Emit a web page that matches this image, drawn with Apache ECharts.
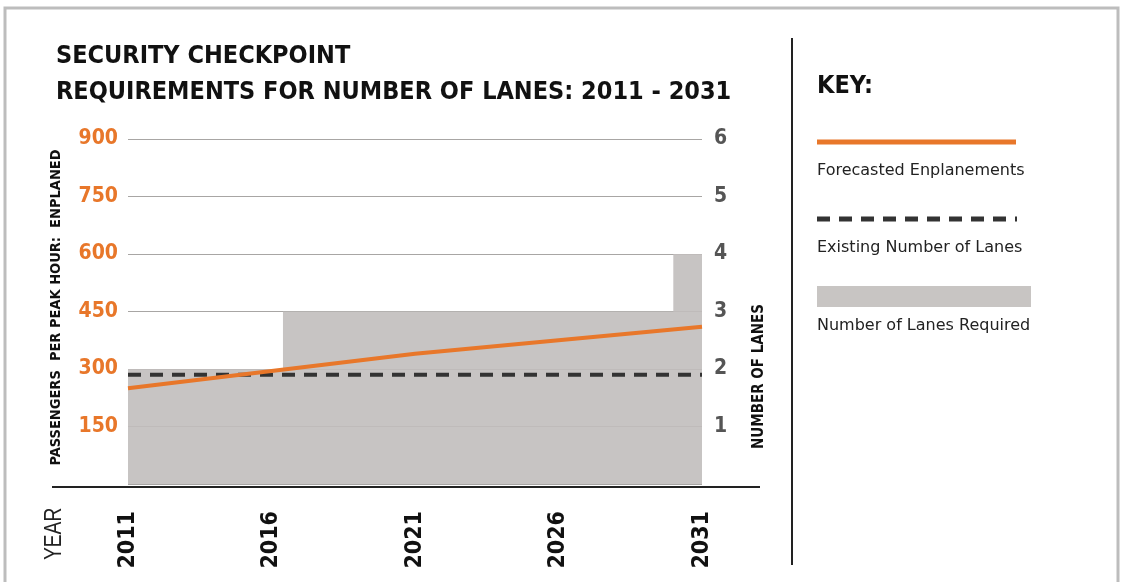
<!DOCTYPE html>
<html><head><meta charset="utf-8">
<script src="https://cdn.jsdelivr.net/npm/echarts@6/dist/echarts.min.js"></script>
<style>html,body{margin:0;padding:0;background:#fff}#c{width:1123px;height:582px}</style>
</head><body><div id="c"></div>
<script>
// ---- data ----
const years = [2011, 2016, 2021, 2026, 2031];
const enplanements = [250, 295, 340, 375, 410];           // passengers per peak hour
const existingLanesYears = [2011, 2031];
const existingLanes = [1.9, 1.9];
const requiredYears = [2011, 2016.4, 2030, 2031];
const requiredLanes = [2, 3, 4, 4];
const leftTicks = [150, 300, 450, 600, 750, 900];
const rightTicks = [1, 2, 3, 4, 5, 6];

const ORANGE = '#e8772a';
const GREY = '#c8c5c3';
const FONT = "'DejaVu Sans Condensed','Liberation Sans',sans-serif";
const KEYFONT = "'DejaVu Sans','Liberation Sans',sans-serif";

const chart = echarts.init(document.getElementById('c'), null, {renderer: 'canvas'});
chart.setOption({
  backgroundColor: '#fff',
  animation: false,
  title: {
    text: 'SECURITY CHECKPOINT\nREQUIREMENTS FOR NUMBER OF LANES: 2011 - 2031',
    left: 51, top: 33,
    textStyle: {fontFamily: FONT, fontWeight: 'bold', fontSize: 25, lineHeight: 36, color: '#111'}
  },
  grid: {left: 128, right: 421, top: 139, bottom: 98},
  xAxis: {
    type: 'value', min: 2011, max: 2031, interval: 5,
    axisLine: {show: false}, axisTick: {show: false}, splitLine: {show: false},
    axisLabel: {rotate: 90, margin: 27, fontFamily: FONT, fontWeight: 'bold', fontSize: 23, color: '#111',
      formatter: v => String(v)}
  },
  yAxis: [{
    type: 'value', min: 0, max: 900, interval: 150, position: 'left',
    name: 'PASSENGERS  PER PEAK HOUR:  ENPLANED', nameLocation: 'middle', nameGap: 64, nameRotate: 90,
    nameTextStyle: {fontFamily: FONT, fontWeight: 'bold', fontSize: 14.5, color: '#111', padding: [0, 0, 0, 8]},
    axisLine: {show: false}, axisTick: {show: false},
    axisLabel: {margin: 10, fontFamily: FONT, fontWeight: 'bold', fontSize: 21, color: ORANGE,
      formatter: v => v === 0 ? '' : String(v)},
    splitLine: {lineStyle: {color: '#a8a6a4', width: 1}}
  }, {
    type: 'value', min: 0, max: 6, interval: 1, position: 'right',
    name: 'NUMBER OF LANES', nameLocation: 'middle', nameGap: 50, nameRotate: 90,
    nameTextStyle: {fontFamily: FONT, fontWeight: 'bold', fontSize: 15, color: '#111', padding: [0, 0, 0, -130]},
    axisLine: {show: false}, axisTick: {show: false}, splitLine: {show: false},
    axisLabel: {margin: 12, fontFamily: FONT, fontWeight: 'bold', fontSize: 21, color: '#555',
      formatter: v => v === 0 ? '' : String(v)}
  }],
  series: [{
    name: 'Number of Lanes Required', type: 'line', yAxisIndex: 1, step: 'end',
    data: requiredYears.map((y, i) => [y, requiredLanes[i]]),
    symbol: 'none', lineStyle: {width: 0, color: GREY},
    areaStyle: {color: '#c1beBc', opacity: 0.9}, z: 1
  }, {
    name: 'Existing Number of Lanes', type: 'line', yAxisIndex: 1,
    data: existingLanesYears.map((y, i) => [y, existingLanes[i]]),
    symbol: 'none', lineStyle: {width: 4, color: '#333', type: [13, 9]}, z: 3
  }, {
    name: 'Forecasted Enplanements', type: 'line', yAxisIndex: 0,
    data: years.map((y, i) => [y, enplanements[i]]),
    symbol: 'none', lineStyle: {width: 4, color: ORANGE}, z: 4
  }],
  graphic: [
    {type: 'rect', shape: {x: 5, y: 8, width: 1113, height: 600}, style: {fill: 'none', stroke: '#bdbdbd', lineWidth: 3}, z: -1},
    {type: 'line', shape: {x1: 52, y1: 487, x2: 760, y2: 487}, style: {stroke: '#222', lineWidth: 2}},
    {type: 'line', shape: {x1: 792, y1: 38, x2: 792, y2: 565}, style: {stroke: '#222', lineWidth: 2}},
    {type: 'text', x: 54, y: 560, rotation: Math.PI / 2, scaleX: 0.8, style: {text: 'YEAR', fontFamily: 'Liberation Sans', fontSize: 24, fill: '#222', align: 'left', verticalAlign: 'middle'}},
    {type: 'text', x: 817, y: 86, style: {text: 'KEY:', fontFamily: FONT, fontWeight: 'bold', fontSize: 25, fill: '#111', verticalAlign: 'middle'}},
    {type: 'line', shape: {x1: 817, y1: 142, x2: 1016, y2: 142}, style: {stroke: ORANGE, lineWidth: 5}},
    {type: 'text', x: 817, y: 171, style: {text: 'Forecasted Enplanements', fontFamily: KEYFONT, fontSize: 16, fill: '#222', verticalAlign: 'middle'}},
    {type: 'line', shape: {x1: 817, y1: 219, x2: 1017, y2: 219}, style: {stroke: '#333', lineWidth: 5, lineDash: [13, 9]}},
    {type: 'text', x: 817, y: 248, style: {text: 'Existing Number of Lanes', fontFamily: KEYFONT, fontSize: 16, fill: '#222', verticalAlign: 'middle'}},
    {type: 'rect', shape: {x: 817, y: 286, width: 214, height: 21}, style: {fill: GREY}},
    {type: 'text', x: 817, y: 326, style: {text: 'Number of Lanes Required', fontFamily: KEYFONT, fontSize: 16, fill: '#222', verticalAlign: 'middle'}}
  ]
});
</script></body></html>
